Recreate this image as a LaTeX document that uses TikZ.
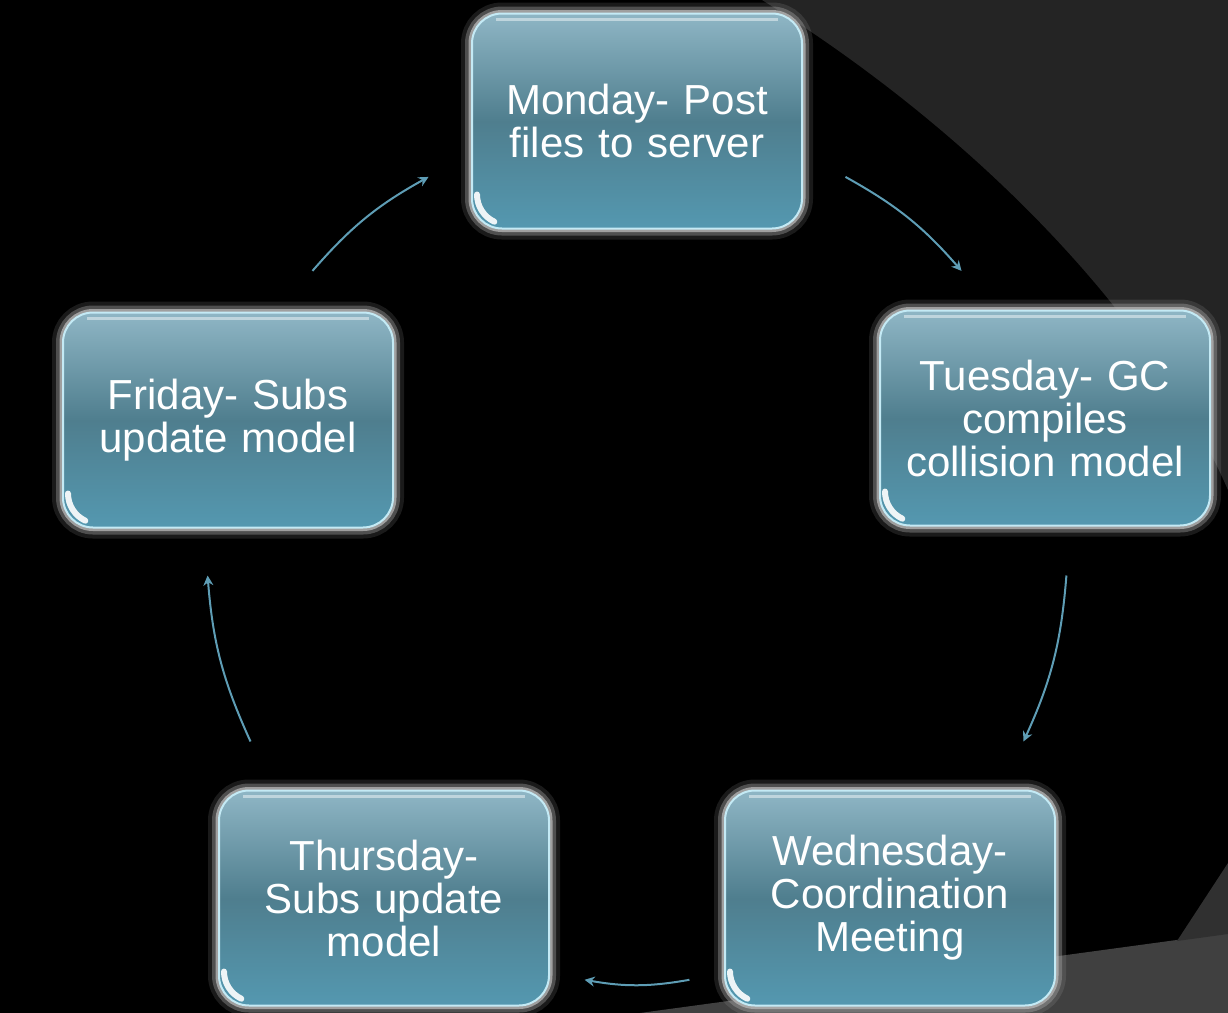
\documentclass[tikz,border=0pt]{standalone}
\usepackage{fontspec}
\setmainfont{Liberation Sans}
\usetikzlibrary{arrows.meta}
\definecolor{bgdark}{HTML}{242424}
\definecolor{bgmid}{HTML}{303030}
\definecolor{bglight}{HTML}{404040}
\definecolor{boxtop}{HTML}{8FB6C5}
\definecolor{boxmid}{HTML}{4F7E8E}
\definecolor{boxbot}{HTML}{5498B0}
\definecolor{boxedge}{HTML}{C4EAF5}
\definecolor{glow}{HTML}{B4B4B4}
\definecolor{arrowblue}{HTML}{5E9DB5}
\tikzset{
  day/.style={rounded corners=15pt, minimum width=165pt, minimum height=107.5pt,
    inner sep=0pt, text width=160pt, align=center, text=white,
    font=\fontsize{21pt}{21.5pt}\selectfont,
    preaction={draw=glow, line width=11pt, draw opacity=0.15},
    preaction={draw=glow, line width=7pt, draw opacity=0.35},
    preaction={draw=glow, line width=3.5pt, draw opacity=0.8},
    top color=boxtop, bottom color=boxbot, middle color=boxmid,
    draw=boxedge, line width=1pt,
    path picture={
      \draw[white, line width=1.5pt, opacity=0.45]
        ([shift={(12pt,-3pt)}]path picture bounding box.north west)
        -- ([shift={(-12pt,-3pt)}]path picture bounding box.north east);
      \draw[white, line width=3pt, line cap=round, opacity=0.9]
        ([shift={(2.5pt,17pt)}]path picture bounding box.south west)
        arc[start angle=180, end angle=245, radius=15pt];}},
  dayarrow/.style={-{Stealth[length=5pt, width=5pt]}, arrowblue, line width=1pt}
}
\begin{document}
\begin{tikzpicture}[x=0.5pt, y=-0.5pt]
    \useasboundingbox (0,0) rectangle (1228,1013);
    \fill[black] (0,0) rectangle (1228,1013);
    \fill[bgdark] (762,0) .. controls (962,124) and (1148,306) .. (1228,490) -- (1228,0) -- cycle;
    \fill[bglight] (640,1013) -- (1228,933) -- (1228,1013) -- cycle;
    \fill[bgmid] (1177,941) -- (1228,863) -- (1228,934) -- cycle;

    \node[day] (mon) at (637,121) {Monday- Post\\files to server};
    \node[day] (tue) at (1045,418) {Tuesday- GC\\compiles\\collision model};
    \node[day] (wed) at (890,898) {Wednesday-\\Coordination\\Meeting};
    \node[day] (thu) at (384,898) {Thursday-\\Subs update\\model};
    \node[day] (fri) at (228,420) {Friday- Subs\\update model};

    \coordinate (ctr) at (637,553);
    \foreach \nm/\a/\b in {mt/-61/-41, tw/3/26, wh/83/97, hf/154/177, fm/221/241} {
        \coordinate (\nm s) at ([shift={(\a:430)}]ctr);
        \coordinate (\nm e) at ([shift={(\b:430)}]ctr);
        \draw[dayarrow] (\nm s) to[bend left=10] (\nm e);
    }
\end{tikzpicture}
\end{document}
